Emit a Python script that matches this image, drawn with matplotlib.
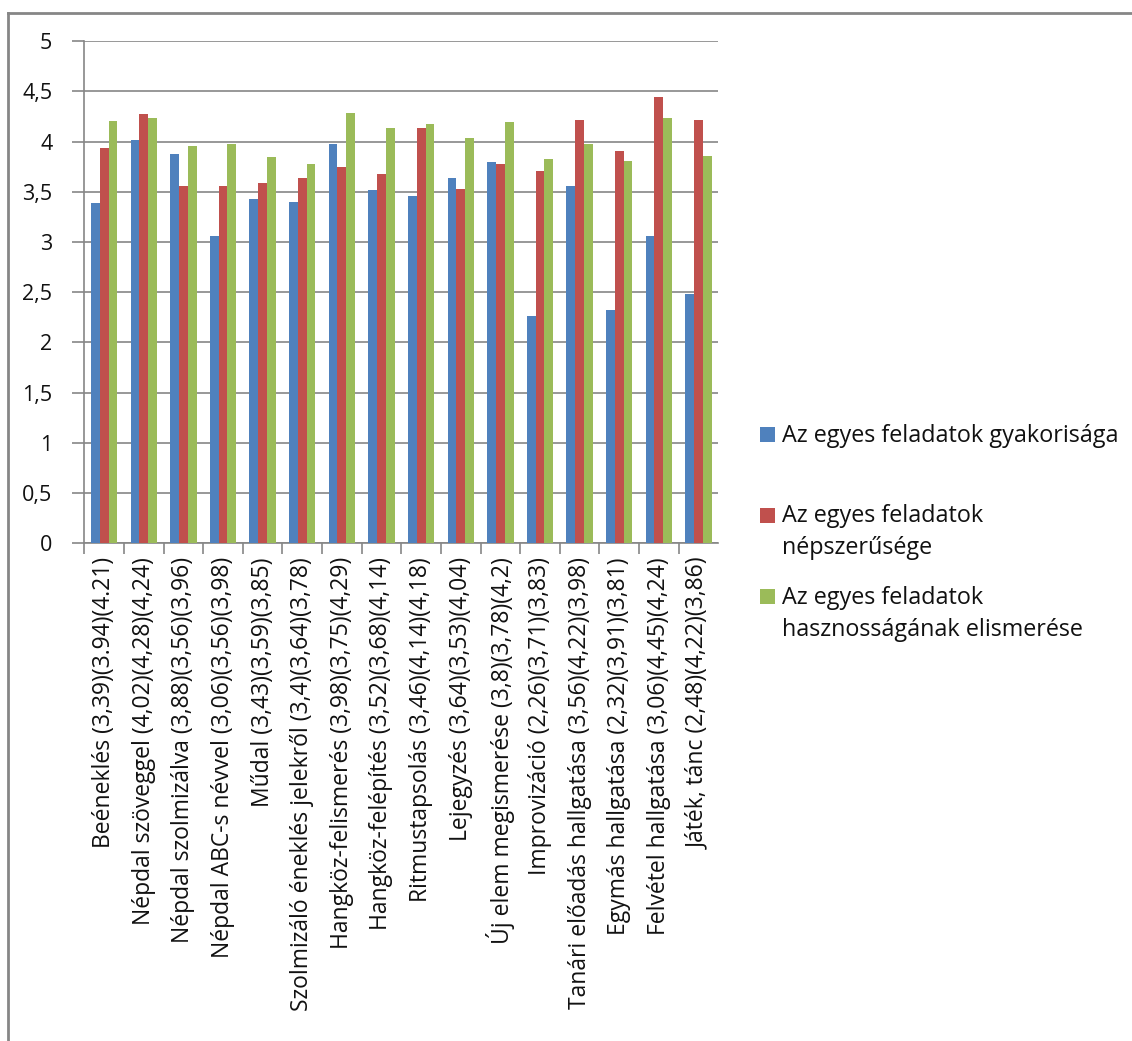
import matplotlib
matplotlib.use("Agg")
import matplotlib.pyplot as plt
from matplotlib.patches import Rectangle
from matplotlib.lines import Line2D
import numpy as np

# --- data -------------------------------------------------------------
categories = [
    "Beéneklés (3,39)(3.94)(4.21)",
    "Népdal szöveggel (4,02)(4,28)(4,24)",
    "Népdal szolmizálva (3,88)(3,56)(3,96)",
    "Népdal ABC-s névvel (3,06)(3,56)(3,98)",
    "Műdal (3,43)(3,59)(3,85)",
    "Szolmizáló éneklés jelekről (3,4)(3,64)(3,78)",
    "Hangköz-felismerés (3,98)(3,75)(4,29)",
    "Hangköz-felépítés (3,52)(3,68)(4,14)",
    "Ritmustapsolás (3,46)(4,14)(4,18)",
    "Lejegyzés (3,64)(3,53)(4,04)",
    "Új elem megismerése (3,8)(3,78)(4,2)",
    "Improvizáció (2,26)(3,71)(3,83)",
    "Tanári előadás hallgatása (3,56)(4,22)(3,98)",
    "Egymás hallgatása (2,32)(3,91)(3,81)",
    "Felvétel hallgatása (3,06)(4,45)(4,24)",
    "Játék, tánc (2,48)(4,22)(3,86)",
]
gyakorisag = [3.39, 4.02, 3.88, 3.06, 3.43, 3.40, 3.98, 3.52,
              3.46, 3.64, 3.80, 2.26, 3.56, 2.32, 3.06, 2.48]
nepszeruseg = [3.94, 4.28, 3.56, 3.56, 3.59, 3.64, 3.75, 3.68,
               4.14, 3.53, 3.78, 3.71, 4.22, 3.91, 4.45, 4.22]
hasznossag = [4.21, 4.24, 3.96, 3.98, 3.85, 3.78, 4.29, 4.14,
              4.18, 4.04, 4.20, 3.83, 3.98, 3.81, 4.24, 3.86]

series_labels = [
    ["Az egyes feladatok gyakorisága"],
    ["Az egyes feladatok", "népszerűsége"],
    ["Az egyes feladatok", "hasznosságának elismerése"],
]
series_colors = ["#4F81BD", "#C0504D", "#9BBB59"]
y_ticks = [0, 0.5, 1, 1.5, 2, 2.5, 3, 3.5, 4, 4.5, 5]
y_tick_labels = ["0", "0,5", "1", "1,5", "2", "2,5", "3", "3,5", "4", "4,5", "5"]

# --- figure -----------------------------------------------------------
W, H = 1132, 1041
plt.rcParams["font.family"] = ["Open Sans", "DejaVu Sans"]
fig = plt.figure(figsize=(W / 100, H / 100), dpi=100)
fig.patch.set_facecolor("white")

def fx(px):
    return px / W

def fy(py):
    return 1 - py / H

ax = fig.add_axes([fx(84.3), fy(543.3), fx(718.3) - fx(84.3), fy(41.3) - fy(543.3)])

grey = "#868686"
txt = "#111111"
n = len(categories)
x = np.arange(n)
bw = 0.2222
for k, vals in enumerate([gyakorisag, nepszeruseg, hasznossag]):
    ax.bar(x + (k - 1) * bw, vals, width=bw, color=series_colors[k],
           edgecolor="none", zorder=3)

ax.set_xlim(-0.5, n - 0.5)
ax.set_ylim(0, 5)
ax.set_yticks(y_ticks)
ax.set_yticklabels(y_tick_labels, fontsize=15.5, color=txt)
ax.yaxis.grid(True, color=grey, linewidth=1.2, zorder=0)
ax.set_axisbelow(True)

# category labels on major ticks (hidden), separators on minor ticks
ax.set_xticks(x)
ax.set_xticklabels(categories, rotation=90, fontsize=16.5, color=txt,
                   ha="center", va="top")
ax.tick_params(axis="x", which="major", length=0, pad=10)
ax.set_xticks(np.arange(-0.5, n - 1, 1.0), minor=True)
ax.tick_params(axis="x", which="minor", length=8, width=1.2, color=grey,
               direction="out")
ax.tick_params(axis="y", length=9, width=1.2, color=grey, direction="out", pad=14)

for side in ["top", "right"]:
    ax.spines[side].set_visible(False)
for side in ["left", "bottom"]:
    ax.spines[side].set_color(grey)
    ax.spines[side].set_linewidth(1.2)

# --- legend -----------------------------------------------------------
legend_first_baselines = [441.5, 522.5, 603.5]
line_step = 32
for k, lines in enumerate(series_labels):
    base = legend_first_baselines[k]
    fig.add_artist(Rectangle((fx(760), fy(base)), fx(775) - fx(760),
                             fy(base - 15) - fy(base), transform=fig.transFigure,
                             facecolor=series_colors[k], edgecolor="none"))
    for j, line in enumerate(lines):
        fig.text(fx(782), fy(base + j * line_step), line, fontsize=16.8,
                 color=txt, ha="left", va="baseline")

# --- outer chart frame --------------------------------------------------
fig.add_artist(Line2D([fx(8), 1.0], [fy(12.5), fy(12.5)], transform=fig.transFigure,
                      color=grey, linewidth=2))
fig.add_artist(Line2D([fx(8), fx(8)], [fy(12.5), 0.0], transform=fig.transFigure,
                      color=grey, linewidth=2))

fig.savefig("out.png", dpi=100, facecolor="white")
